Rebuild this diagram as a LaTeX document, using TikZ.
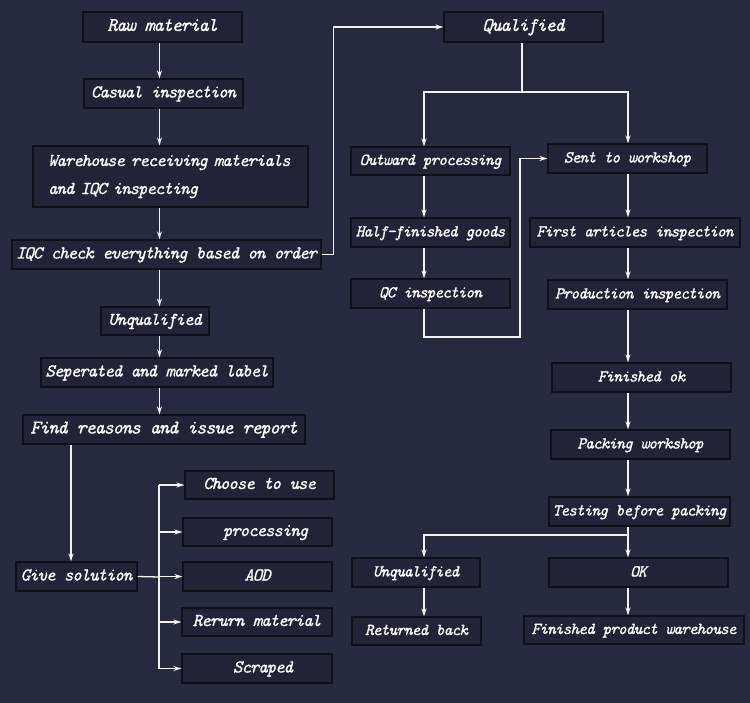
\documentclass[tikz,border=0pt]{standalone}
\usepackage{fontspec}
\usetikzlibrary{arrows.meta,calc}
\newfontfamily\dfont{lmmono10-italic.otf}[FakeBold=0.9, LetterSpace=-6]
\definecolor{bg}{HTML}{252A3E}
\definecolor{boxfill}{HTML}{202436}
\definecolor{boxline}{HTML}{0E1019}
\definecolor{lncol}{HTML}{F2F2F2}
\tikzset{
  bx/.style={draw=boxline, line width=1.2pt, fill=boxfill, text=white, inner sep=0pt,
    text height=0.8em, text depth=0pt,
    font=\dfont\fontsize{18.1}{21}\selectfont, anchor=center},
  bxr/.style={bx, font=\dfont\fontsize{16.7}{20}\selectfont},
  bxb/.style={bx, font=\dfont\fontsize{19.4}{22}\selectfont},
  arr/.style={draw=lncol, line width=1.3pt, -{Stealth[length=8pt,width=5pt]}},
  conn/.style={draw=lncol, line width=1.3pt},
}
\begin{document}
\begin{tikzpicture}[x=1pt,y=-1pt]
\useasboundingbox[fill=bg] (0,0) rectangle (750,703);

% column guides
\coordinate (lc) at (159.5,0);
\coordinate (gc) at (71,0);
\coordinate (br) at (159,577);
\coordinate (mc) at (424,0);
\coordinate (rc) at (628,0);
\coordinate (qj) at (522,92);
\coordinate (lp) at (520,337);
\coordinate (tj) at (628,535);

% left column
\node[bxb, minimum width=159pt, minimum height=30pt] (raw) at (162.5,27) {Raw material};
\node[bx, minimum width=159pt, minimum height=29pt] (cas) at (163.5,93.5) {Casual inspection};
\node[bx, minimum width=275pt, minimum height=61pt, text width=245pt, inner xsep=15pt, align=left,
  text height=, text depth=,
  font=\dfont\fontsize{18.1}{28}\selectfont] (wh) at (170.5,176.5)
  {Warehouse receiving materials\\and IQC inspecting};
\node[bx, minimum width=309pt, minimum height=29pt] (iqc) at (166.5,254.5) {IQC check everything based on order};
\node[bx, minimum width=108pt, minimum height=28pt] (unq) at (155,321) {Unqualified};
\node[bx, minimum width=232pt, minimum height=29pt] (sep) at (157,372.5) {Seperated and marked label};
\node[bxb, minimum width=282pt, minimum height=29pt] (find) at (164,429.5) {Find reasons and issue report};
\node[bx, minimum width=121pt, minimum height=29pt] (give) at (76.5,576.5) {Give solution};
\node[bx, minimum width=149pt, minimum height=28pt] (choose) at (259.5,485) {Choose to use};
\node[bx, minimum width=149pt, minimum height=28pt] (proc) at (257.5,532) {\hspace*{16pt}processing};
\node[bx, minimum width=149pt, minimum height=29pt] (aod) at (257.5,576.5) {AOD};
\node[bx, minimum width=150pt, minimum height=28pt] (rer) at (257,622) {Rerurn material};
\node[bx, minimum width=150pt, minimum height=29pt] (scr) at (257,668.5) {\hspace*{12pt}Scraped};

% right part
\node[bxb, minimum width=159pt, minimum height=30pt] (qual) at (523.5,27) {Qualified};
\node[bxr, minimum width=159pt, minimum height=28pt] (outw) at (430.5,161) {Outward processing};
\node[bxr, minimum width=159pt, minimum height=29pt] (sent) at (627.5,158.5) {Sent to workshop};
\node[bxr, minimum width=159pt, minimum height=29pt] (half) at (430.5,232.5) {Half-finished goods};
\node[bxr, minimum width=210pt, minimum height=29pt] (first) at (635,232.5) {First articles inspection};
\node[bxr, minimum width=159pt, minimum height=29pt] (qc) at (430.5,293.5) {QC inspection};
\node[bxr, minimum width=179pt, minimum height=29pt] (prod) at (637.5,294.5) {Production inspection};
\node[bxr, minimum width=179pt, minimum height=29pt] (fok) at (641.5,377.5) {Finished ok};
\node[bxr, minimum width=179pt, minimum height=29pt] (pack) at (640.5,444.5) {Packing workshop};
\node[bxr, minimum width=181pt, minimum height=29pt] (test) at (639.5,511.5) {Testing before packing};
\node[bxr, minimum width=128pt, minimum height=29pt] (unq2) at (416,572.5) {Unqualified};
\node[bxr, minimum width=179pt, minimum height=29pt] (ok) at (638.5,572.5) {OK};
\node[bxr, minimum width=129pt, minimum height=28pt] (ret) at (416.5,631) {Returned back};
\node[bxr, minimum width=220pt, minimum height=28pt] (fpw) at (634,630) {Finished product warehouse};

% left connectors
\draw[arr] (raw.south -| lc) -- (cas.north -| lc);
\draw[arr] (cas.south -| lc) -- (wh.north -| lc);
\draw[arr] (wh.south -| lc) -- (iqc.north -| lc);
\draw[arr] (iqc.south -| lc) -- (unq.north -| lc);
\draw[arr] (unq.south -| lc) -- (sep.north -| lc);
\draw[arr] (sep.south -| lc) -- (find.north -| lc);
\draw[arr] (find.south -| gc) -- (give.north -| gc);
\draw[conn] (give.east) -- (br);
\draw[conn] (choose.west -| br) -- (scr.west -| br);
\draw[arr] (choose.west -| br) -- (choose.west);
\draw[arr] (proc.west -| br) -- (proc.west);
\draw[arr] (aod.west -| br) -- (aod.west);
\draw[arr] (rer.west -| br) -- (rer.west);
\draw[arr] (scr.west -| br) -- (scr.west);

% to qualified
\draw[arr] (iqc.east) -- ++(12,0) |- (qual.west);

% qualified split
\draw[conn] (qual.south -| qj) -- (qj);
\draw[arr] (qj) -| (outw.north -| mc);
\draw[arr] (qj) -| (sent.north -| rc);

% middle column
\draw[arr] (outw.south -| mc) -- (half.north -| mc);
\draw[arr] (half.south -| mc) -- (qc.north -| mc);
\draw[arr] (qc.south -| mc) |- (lp) |- (sent.west);

% right column
\draw[arr] (sent.south -| rc) -- (first.north -| rc);
\draw[arr] (first.south -| rc) -- (prod.north -| rc);
\draw[arr] (prod.south -| rc) -- (fok.north -| rc);
\draw[arr] (fok.south -| rc) -- (pack.north -| rc);
\draw[arr] (pack.south -| rc) -- (test.north -| rc);
\draw[arr] (test.south -| rc) -- (ok.north -| rc);
\draw[arr] (tj) -| (unq2.north -| mc);
\draw[arr] (unq2.south -| mc) -- (ret.north -| mc);
\draw[arr] (ok.south -| rc) -- (fpw.north -| rc);
\end{tikzpicture}
\end{document}
